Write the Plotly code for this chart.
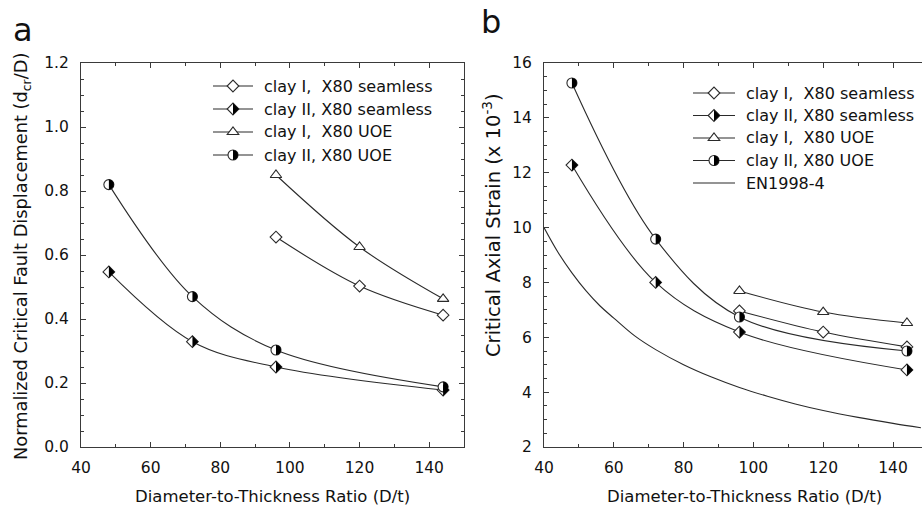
import plotly.graph_objects as go

# ---------------- data ----------------
series_names = ["clay I,\u00a0 X80 seamless", "clay II, X80 seamless",
                "clay I,\u00a0 X80 UOE", "clay II, X80 UOE"]
en_name = "EN1998-4"

# panel a : normalized critical fault displacement (dcr/D)
a_clayI_seam_x = [96, 120, 144]
a_clayI_seam_y = [0.656, 0.503, 0.412]
a_clayII_seam_x = [48, 72, 96, 144]
a_clayII_seam_y = [0.547, 0.329, 0.250, 0.178]
a_clayI_uoe_x = [96, 120, 144]
a_clayI_uoe_y = [0.850, 0.625, 0.463]
a_clayII_uoe_x = [48, 72, 96, 144]
a_clayII_uoe_y = [0.820, 0.470, 0.303, 0.188]

# panel b : critical axial strain (x 10^-3)
b_clayI_seam_x = [96, 120, 144]
b_clayI_seam_y = [6.96, 6.19, 5.65]
b_clayII_seam_x = [48, 72, 96, 144]
b_clayII_seam_y = [12.28, 8.00, 6.19, 4.81]
b_clayI_uoe_x = [96, 120, 144]
b_clayI_uoe_y = [7.69, 6.92, 6.52]
b_clayII_uoe_x = [48, 72, 96, 144]
b_clayII_uoe_y = [15.27, 9.58, 6.74, 5.50]
en_x = [40, 44, 48, 52, 56, 60, 66, 72, 80, 88, 96, 104, 112, 120, 130, 140, 148]
en_y = [10.0, 9.10, 8.35, 7.70, 7.15, 6.70, 6.05, 5.55, 5.00, 4.55, 4.17, 3.85,
        3.57, 3.33, 3.08, 2.86, 2.70]

a_yticks = [0.0, 0.2, 0.4, 0.6, 0.8, 1.0, 1.2]
b_yticks = [2, 4, 6, 8, 10, 12, 14, 16]
x_ticks = [40, 60, 80, 100, 120, 140]

# ---------------- style / layout helpers ----------------
W, H = 922, 510
FONT = "DejaVu Sans"
LC = "#2a2a2a"
AX = "#3a3a3a"


def fx(p):
    return p / W


def fy(p):
    return 1 - p / H


def diamond_path(r):
    return f"M0,{-r} L{r},0 L0,{r} L{-r},0 Z"


def half_diamond_path(r):
    return f"M0,{-r} L{r},0 L0,{r} Z"


def circle_path(r):
    k = 0.5523 * r
    return (f"M{r},0 C{r},{k} {k},{r} 0,{r} C{-k},{r} {-r},{k} {-r},0 "
            f"C{-r},{-k} {-k},{-r} 0,{-r} C{k},{-r} {r},{-k} {r},0 Z")


def half_circle_path(r):
    k = 0.5523 * r
    return f"M0,{r} C{k},{r} {r},{k} {r},0 C{r},{-k} {k},{-r} 0,{-r} Z"


def triangle_path(r):
    rt = r * 2 / 3 ** 0.5
    r2 = r / 2
    return f"M{-rt},{-r2} L{rt},{-r2} L0,{r} Z"


DS, CS, TS = 9, 10, 10          # marker sizes (diamond, circle, triangle)
DR = 1.3 * DS / 2
CR = CS / 2
TR = TS / 2

fig = go.Figure()
shapes = []
annotations = []

panels = [
    ("x", "y", [
        (a_clayI_seam_x, a_clayI_seam_y, "diamond", DS, None),
        (a_clayII_seam_x, a_clayII_seam_y, "diamond", DS, half_diamond_path(DR)),
        (a_clayI_uoe_x, a_clayI_uoe_y, "triangle-up", TS, None),
        (a_clayII_uoe_x, a_clayII_uoe_y, "circle", CS, half_circle_path(CR)),
    ]),
    ("x2", "y2", [
        (b_clayI_seam_x, b_clayI_seam_y, "diamond", DS, None),
        (b_clayII_seam_x, b_clayII_seam_y, "diamond", DS, half_diamond_path(DR)),
        (b_clayI_uoe_x, b_clayI_uoe_y, "triangle-up", TS, None),
        (b_clayII_uoe_x, b_clayII_uoe_y, "circle", CS, half_circle_path(CR)),
    ]),
]

# EN1998-4 curve
fig.add_trace(go.Scatter(x=en_x, y=en_y, mode="lines", xaxis="x2", yaxis="y2",
                         line=dict(color=LC, width=1.1, shape="spline"),
                         showlegend=False, hoverinfo="skip"))

for xa, ya, series in panels:
    for (xs, ys, sym, size, half) in series:
        fig.add_trace(go.Scatter(
            x=xs, y=ys, mode="lines+markers", xaxis=xa, yaxis=ya,
            line=dict(color=LC, width=1.1, shape="spline", smoothing=1),
            marker=dict(symbol=sym, size=size, color="white",
                        line=dict(color=LC, width=1.1)),
            showlegend=False, cliponaxis=False))
        if half:
            for xv, yv in zip(xs, ys):
                shapes.append(dict(type="path", xref=xa, yref=ya,
                                   xsizemode="pixel", ysizemode="pixel",
                                   xanchor=xv, yanchor=yv, path=half,
                                   fillcolor="black", line=dict(width=0)))

# ---------------- manual legends ----------------
leg_symbols = [
    (diamond_path(DR), None),
    (diamond_path(DR), half_diamond_path(DR)),
    (triangle_path(TR), None),
    (circle_path(CR), half_circle_path(CR)),
]


def text_ann(text, x, y, size, xanchor="center", yanchor="middle", angle=0):
    return dict(text=text, xref="paper", yref="paper", x=fx(x), y=fy(y),
                xanchor=xanchor, yanchor=yanchor, showarrow=False,
                textangle=angle, font=dict(family=FONT, size=size, color="#111"))


def add_legend(x_line0, x_line1, x_text, rows, with_en):
    xm = (x_line0 + x_line1) / 2
    for i, name in enumerate(series_names):
        yy = rows[i]
        shapes.append(dict(type="line", xref="paper", yref="paper",
                           x0=fx(x_line0), x1=fx(x_line1), y0=fy(yy), y1=fy(yy),
                           line=dict(color=LC, width=1.1)))
        full, half = leg_symbols[i]
        shapes.append(dict(type="path", xref="paper", yref="paper",
                           xsizemode="pixel", ysizemode="pixel",
                           xanchor=fx(xm), yanchor=fy(yy), path=full,
                           fillcolor="white", line=dict(color=LC, width=1.1)))
        if half:
            shapes.append(dict(type="path", xref="paper", yref="paper",
                               xsizemode="pixel", ysizemode="pixel",
                               xanchor=fx(xm), yanchor=fy(yy), path=half,
                               fillcolor="black", line=dict(width=0)))
        annotations.append(text_ann(name, x_text, yy, 16, xanchor="left"))
    if with_en:
        yy = rows[4]
        shapes.append(dict(type="line", xref="paper", yref="paper",
                           x0=fx(x_line0), x1=fx(x_line1), y0=fy(yy), y1=fy(yy),
                           line=dict(color=LC, width=1.1)))
        annotations.append(text_ann(en_name, x_text, yy, 16, xanchor="left"))


add_legend(213, 253, 262, [86, 109, 132, 155], False)
add_legend(693, 735, 744, [93, 115.5, 138, 160.5, 183], True)

# ---------------- titles ----------------
annotations += [
    text_ann("a", 23, 30, 32),
    text_ann("b", 491, 22, 32),
    text_ann("Normalized Critical Fault Displacement (d<sub>cr</sub>/D)",
             22, 257, 17.8, angle=-90),
    text_ann("Critical Axial Strain (x 10<sup>-3</sup>)", 492, 225, 19.5, angle=-90),
    text_ann("Diameter-to-Thickness Ratio (D/t)", 272, 496, 16.5),
    text_ann("Diameter-to-Thickness Ratio (D/t)", 744, 496, 16.5),
]

# ---------------- axes ----------------
tickfont = dict(family=FONT, size=15.5, color="#111")


def xaxis_cfg(domain, rng, anchor):
    return dict(domain=domain, range=rng, anchor=anchor, tickvals=x_ticks,
                ticks="inside", ticklen=5, tickcolor=AX, tickwidth=1,
                minor=dict(ticks="inside", dtick=10, tick0=40, ticklen=3,
                           tickcolor=AX, showgrid=False),
                showline=True, linecolor=AX, linewidth=1, mirror="ticks",
                showgrid=False, zeroline=False, tickfont=tickfont,
                ticklabelstandoff=6)


def yaxis_cfg(domain, rng, anchor, vals, fmt, minor_dt, mirror):
    return dict(domain=domain, range=rng, anchor=anchor, tickvals=vals,
                tickformat=fmt, ticks="inside", ticklen=5, tickcolor=AX,
                minor=dict(ticks="inside", dtick=minor_dt, tick0=rng[0],
                           ticklen=3, tickcolor=AX, showgrid=False),
                showline=True, linecolor=AX, linewidth=1, mirror=mirror,
                showgrid=False, zeroline=False, tickfont=tickfont,
                ticklabelstandoff=8)


ydom = [fy(447), fy(63)]
x2_end = 40 + (W - 544) / 3.49

fig.update_layout(
    width=W, height=H, margin=dict(l=0, r=0, t=0, b=0, autoexpand=False),
    paper_bgcolor="white", plot_bgcolor="white", showlegend=False,
    xaxis=xaxis_cfg([fx(81), fx(464)], [40, 150], "y"),
    yaxis=yaxis_cfg(ydom, [0, 1.2], "x", a_yticks, ".1f", 0.05, "ticks"),
    xaxis2=xaxis_cfg([fx(544), 1.0], [40, x2_end], "y2"),
    yaxis2=yaxis_cfg(ydom, [2, 16], "x2", b_yticks, "d", 0.5, False),
    shapes=shapes, annotations=annotations,
)

fig.write_html("out.html")
